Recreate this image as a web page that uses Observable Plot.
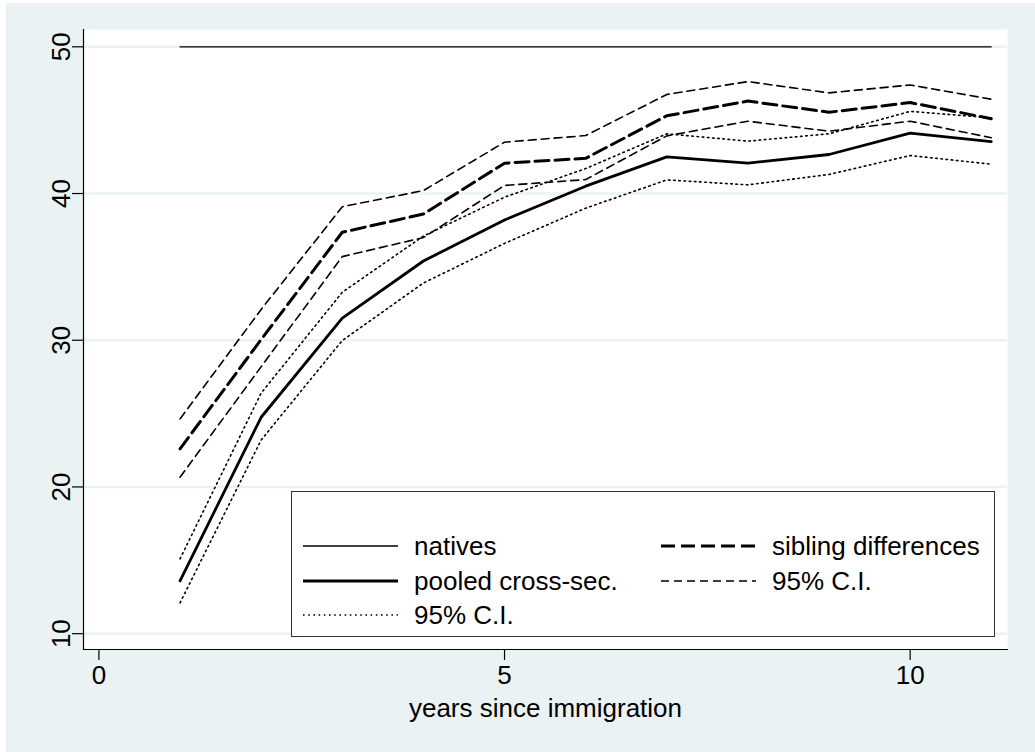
<!DOCTYPE html>
<html>
<head>
<meta charset="utf-8">
<script src="https://cdn.jsdelivr.net/npm/d3@7"></script>
<script src="https://cdn.jsdelivr.net/npm/@observablehq/plot@0.6"></script>
<style>
  html, body { margin: 0; padding: 0; background: #ffffff; }
  #wrap { position: absolute; left: 6px; top: 3px; width: 1029px; height: 749px; background: #eaf2f3; }
  #chart { position: absolute; left: 0; top: 0; }
  #legend { position: absolute; left: 285px; top: 488px; width: 704px; height: 146px;
            box-sizing: border-box; border: 1.5px solid #333; background: #fff; }
  #legend svg { position: absolute; left: 0; top: 0; }
  text { font-family: "Liberation Sans", Arial, Helvetica, sans-serif; }
</style>
</head>
<body>
<div id="wrap">
  <div id="chart"></div>
  <div id="legend"></div>
</div>
<script>
// ---- data ----
const years = [1, 2, 3, 4, 5, 6, 7, 8, 9, 10, 11];
const natives  = [50, 50, 50, 50, 50, 50, 50, 50, 50, 50, 50];
const pooled   = [13.6, 24.75, 31.5, 35.4, 38.2, 40.5, 42.5, 42.07, 42.66, 44.11, 43.54];
const pooledLo = [12.1, 23.2, 29.98, 33.9, 36.6, 39.0, 40.93, 40.59, 41.3, 42.59, 42.0];
const pooledHi = [15.1, 26.4, 33.27, 37.1, 39.75, 41.7, 44.07, 43.57, 44.07, 45.6, 45.16];
const sibling   = [22.6, 30.05, 37.36, 38.6, 42.07, 42.4, 45.3, 46.3, 45.54, 46.2, 45.1];
const siblingLo = [20.66, 28.2, 35.7, 37.0, 40.55, 40.95, 43.93, 44.93, 44.25, 44.93, 43.8];
const siblingHi = [24.64, 32.1, 39.1, 40.2, 43.5, 43.95, 46.75, 47.63, 46.86, 47.4, 46.43];
const xTicks = [0, 5, 10];
const yTicks = [10, 20, 30, 40, 50];
const xLabel = "years since immigration";
const legendItems = ["natives", "sibling differences", "pooled cross-sec.", "95% C.I.", "95% C.I."];

// ---- styles ----
const S = {
  natives:   {stroke: "black", strokeWidth: 1.3},
  pooled:    {stroke: "black", strokeWidth: 2.8},
  pooledCI:  {stroke: "black", strokeWidth: 1.6, strokeDasharray: "1.6,3.6"},
  sibling:   {stroke: "black", strokeWidth: 3, strokeDasharray: "14,6"},
  siblingCI: {stroke: "black", strokeWidth: 1.6, strokeDasharray: "8,5"}
};

const mk = (vals) => years.map((x, i) => ({x, y: vals[i]}));
const font = "Liberation Sans, Arial, Helvetica, sans-serif";

const chart = Plot.plot({
  width: 1029,
  height: 749,
  marginLeft: 77,
  marginRight: 28,
  marginTop: 26,
  marginBottom: 103,
  style: {background: "transparent", fontFamily: font, fontSize: "26px", color: "black"},
  x: {domain: [-0.19, 11.2], ticks: xTicks},
  y: {domain: [8.92, 51.18], ticks: yTicks},
  marks: [
    Plot.frame({fill: "white", stroke: "none"}),
    Plot.gridY(yTicks, {stroke: "#eaf2f3", strokeOpacity: 1, strokeWidth: 2.5}),
    Plot.frame({anchor: "left", stroke: "black", strokeWidth: 1.2}),
    Plot.frame({anchor: "bottom", stroke: "black", strokeWidth: 1.2}),
    Plot.axisX(xTicks, {tickSize: 11, tickPadding: 5, label: null, fontSize: 26, strokeWidth: 1.2}),
    Plot.axisY(yTicks, {tickSize: 11, tickPadding: 3, tickRotate: -90, label: null, fontSize: 26, strokeWidth: 1.2}),
    Plot.text([xLabel], {frameAnchor: "bottom", dy: 67, fontSize: 26, text: d => d}),
    Plot.line(mk(natives), {x: "x", y: "y", ...S.natives}),
    Plot.line(mk(pooledLo), {x: "x", y: "y", ...S.pooledCI}),
    Plot.line(mk(pooledHi), {x: "x", y: "y", ...S.pooledCI}),
    Plot.line(mk(siblingLo), {x: "x", y: "y", ...S.siblingCI}),
    Plot.line(mk(siblingHi), {x: "x", y: "y", ...S.siblingCI}),
    Plot.line(mk(sibling), {x: "x", y: "y", ...S.sibling}),
    Plot.line(mk(pooled), {x: "x", y: "y", ...S.pooled})
  ]
});
document.getElementById("chart").appendChild(chart);

// ---- legend (inside plot region) ----
const leg = d3.select("#legend").append("svg").attr("width", 702).attr("height", 144);
const entries = [
  {label: legendItems[0], style: S.natives,   col: 0, row: 0},
  {label: legendItems[1], style: S.sibling,   col: 1, row: 0},
  {label: legendItems[2], style: S.pooled,    col: 0, row: 1},
  {label: legendItems[3], style: S.siblingCI, col: 1, row: 1},
  {label: legendItems[4], style: S.pooledCI,  col: 0, row: 2}
];
const colX = [11, 369], rowY = [54, 89, 123];
for (const e of entries) {
  const x0 = colX[e.col], y0 = rowY[e.row];
  leg.append("line").attr("x1", x0).attr("x2", x0 + 95).attr("y1", y0).attr("y2", y0)
    .attr("stroke", e.style.stroke).attr("stroke-width", e.style.strokeWidth)
    .attr("stroke-dasharray", e.style.strokeDasharray || null);
  leg.append("text").attr("x", x0 + 111).attr("y", y0).attr("dy", "0.35em")
    .attr("font-size", 26).attr("font-family", font).text(e.label);
}
</script>
</body>
</html>
